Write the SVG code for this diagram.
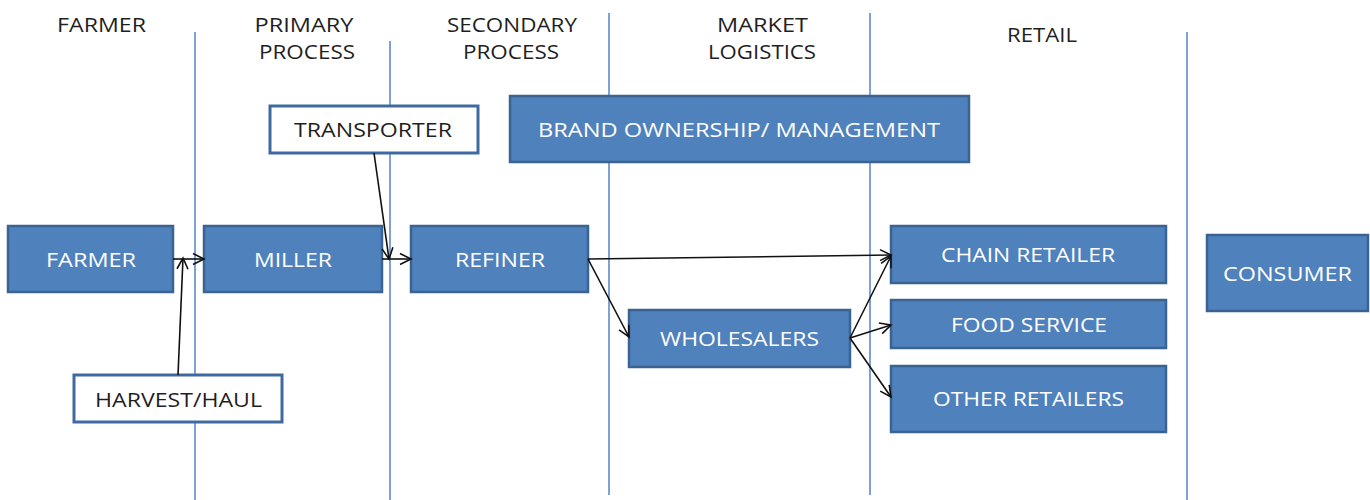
<svg xmlns="http://www.w3.org/2000/svg" width="1370" height="500" viewBox="0 0 1370 500">
  <style>
    .lane { stroke: #7fa2d6; stroke-width: 2; fill: none; }
    .head { font-family: "Open Sans", "Liberation Sans", sans-serif; font-size: 20.5px; fill: #1f1f1f; text-anchor: middle; }
    .box { fill: #4f81bd; stroke: #3a6391; stroke-width: 2.5; }
    .plain { fill: #ffffff; stroke: #3f6aa0; stroke-width: 3; }
    .lbl { font-family: "Open Sans", "Liberation Sans", sans-serif; font-size: 20px; fill: #ffffff; text-anchor: middle; }
    .lbl-dark { font-family: "Open Sans", "Liberation Sans", sans-serif; font-size: 20px; fill: #1f1f1f; text-anchor: middle; }
    .conn { stroke: #111111; stroke-width: 1.6; fill: none; marker-end: url(#arrow); }
  </style>
  <defs>
    <marker id="arrow" markerUnits="userSpaceOnUse" markerWidth="14" markerHeight="14" viewBox="0 0 14 14" refX="12" refY="7" orient="auto">
      <path d="M1,1.5 L12,7 L1,12.5" fill="none" stroke="#111111" stroke-width="1.6"/>
    </marker>
  </defs>
  <rect width="1370" height="500" fill="#ffffff"/>

  <!-- stage headings -->
  <g id="headings">
    <text class="head" x="101.5" y="32" textLength="89" lengthAdjust="spacingAndGlyphs">FARMER</text>
    <text class="head" x="304" y="32" textLength="99" lengthAdjust="spacingAndGlyphs">PRIMARY</text>
    <text class="head" x="307" y="59" textLength="96" lengthAdjust="spacingAndGlyphs">PROCESS</text>
    <text class="head" x="512" y="32" textLength="130" lengthAdjust="spacingAndGlyphs">SECONDARY</text>
    <text class="head" x="511" y="59" textLength="96" lengthAdjust="spacingAndGlyphs">PROCESS</text>
    <text class="head" x="762.5" y="32" textLength="91" lengthAdjust="spacingAndGlyphs">MARKET</text>
    <text class="head" x="762" y="59" textLength="108" lengthAdjust="spacingAndGlyphs">LOGISTICS</text>
    <text class="head" x="1042" y="42" textLength="70" lengthAdjust="spacingAndGlyphs">RETAIL</text>
  </g>

  <!-- lane dividers -->
  <g id="lanes">
    <line class="lane" x1="195" y1="32" x2="195" y2="500"/>
    <line class="lane" x1="390" y1="41" x2="390" y2="500"/>
    <line class="lane" x1="609" y1="13" x2="609" y2="495"/>
    <line class="lane" x1="870" y1="13" x2="870" y2="495"/>
    <line class="lane" x1="1187" y1="32" x2="1187" y2="500"/>
  </g>

  <g id="node-transporter">
    <rect class="plain" x="270" y="106" width="208" height="47"/>
    <text class="lbl-dark" x="373" y="137" textLength="158" lengthAdjust="spacingAndGlyphs">TRANSPORTER</text>
  </g>
  <g id="node-brand">
    <rect class="box" x="510" y="96" width="459" height="66"/>
    <text class="lbl" x="739" y="137" textLength="402" lengthAdjust="spacingAndGlyphs">BRAND OWNERSHIP/ MANAGEMENT</text>
  </g>
  <g id="node-farmer">
    <rect class="box" x="8" y="226" width="165" height="66"/>
    <text class="lbl" x="91" y="267" textLength="90" lengthAdjust="spacingAndGlyphs">FARMER</text>
  </g>
  <g id="node-miller">
    <rect class="box" x="204" y="226" width="178" height="66"/>
    <text class="lbl" x="293" y="267" textLength="78" lengthAdjust="spacingAndGlyphs">MILLER</text>
  </g>
  <g id="node-refiner">
    <rect class="box" x="411" y="226" width="177" height="66"/>
    <text class="lbl" x="500" y="267" textLength="90" lengthAdjust="spacingAndGlyphs">REFINER</text>
  </g>
  <g id="node-harvest">
    <rect class="plain" x="74" y="375" width="208" height="47"/>
    <text class="lbl-dark" x="178.5" y="407" textLength="167" lengthAdjust="spacingAndGlyphs">HARVEST/HAUL</text>
  </g>
  <g id="node-wholesalers">
    <rect class="box" x="629" y="310" width="221" height="57"/>
    <text class="lbl" x="739.5" y="346" textLength="159" lengthAdjust="spacingAndGlyphs">WHOLESALERS</text>
  </g>
  <g id="node-chain">
    <rect class="box" x="891" y="226" width="275" height="57"/>
    <text class="lbl" x="1028" y="262" textLength="174" lengthAdjust="spacingAndGlyphs">CHAIN RETAILER</text>
  </g>
  <g id="node-food">
    <rect class="box" x="891" y="300" width="275" height="48"/>
    <text class="lbl" x="1029" y="332" textLength="156" lengthAdjust="spacingAndGlyphs">FOOD SERVICE</text>
  </g>
  <g id="node-other">
    <rect class="box" x="891" y="366" width="275" height="66"/>
    <text class="lbl" x="1028.5" y="406" textLength="191" lengthAdjust="spacingAndGlyphs">OTHER RETAILERS</text>
  </g>
  <g id="node-consumer">
    <rect class="box" x="1207" y="235" width="161" height="76"/>
    <text class="lbl" x="1287.5" y="281" textLength="129" lengthAdjust="spacingAndGlyphs">CONSUMER</text>
  </g>

  <!-- flows between stages -->
  <g id="connectors">
    <line class="conn" x1="173" y1="259" x2="204" y2="259"/>
    <line class="conn" x1="178" y1="375" x2="183" y2="258"/>
    <line class="conn" x1="382" y1="259" x2="411" y2="259"/>
    <line class="conn" x1="374" y1="153" x2="389" y2="259"/>
    <line class="conn" x1="588" y1="259" x2="891" y2="255"/>
    <line class="conn" x1="588" y1="259" x2="629" y2="337"/>
    <line class="conn" x1="850" y1="338" x2="891" y2="256"/>
    <line class="conn" x1="850" y1="338" x2="891" y2="325"/>
    <line class="conn" x1="850" y1="338" x2="891" y2="397"/>
  </g>
</svg>
